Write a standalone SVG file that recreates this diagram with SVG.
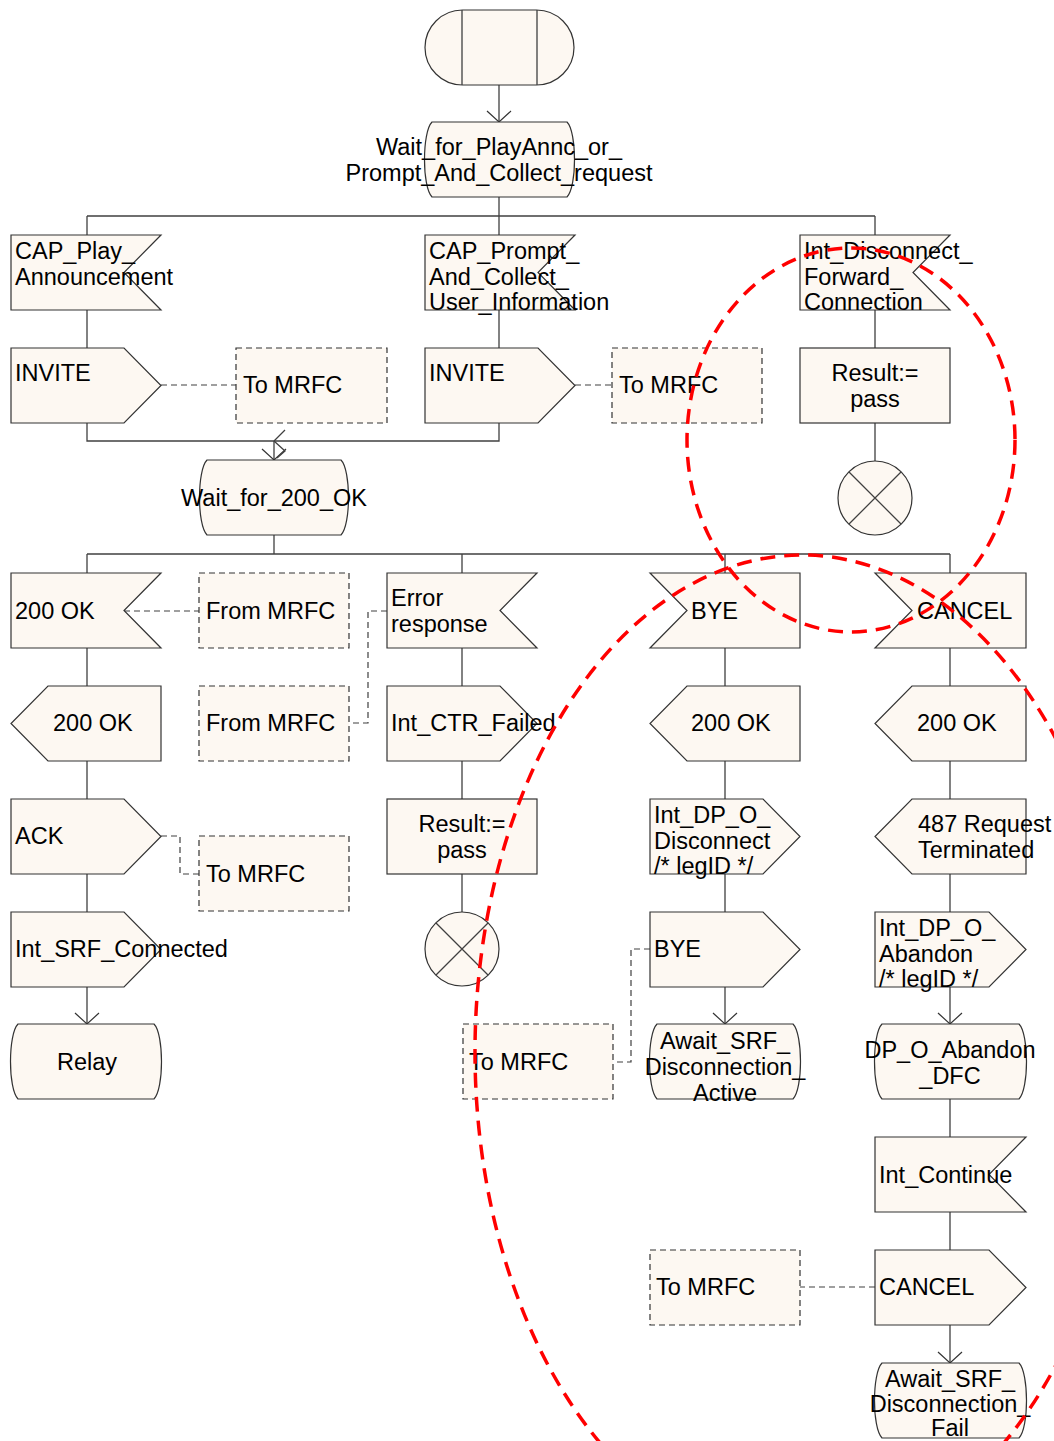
<svg xmlns="http://www.w3.org/2000/svg" width="1054" height="1441" viewBox="0 0 1054 1441">
<style>
.n{fill:#fdf8f2;stroke:#333;stroke-width:1.2}
.c{fill:#fdf8f2;stroke:#333;stroke-width:1.2;stroke-dasharray:6 4}
.l{fill:none;stroke:#404040;stroke-width:1.3}
.d{fill:none;stroke:#404040;stroke-width:1.2;stroke-dasharray:6 4}
.t{font-family:"Liberation Sans",Arial,sans-serif;font-size:23.5px;fill:#000}
.m{text-anchor:middle}
.r{fill:none;stroke:#f00;stroke-width:3.5;stroke-dasharray:15 9}
</style>
<defs>
<marker id="a" markerUnits="userSpaceOnUse" markerWidth="14" markerHeight="28" viewBox="-12 -13 14 26" refX="0" refY="0" orient="auto" overflow="visible">
<path d="M-11,-12 L0,0 L-11,12" fill="none" stroke="#333" stroke-width="1.2"/>
</marker>
</defs>
<rect width="1054" height="1441" fill="#fff"/>

<g id="connectors">
<path class="l" d="M499,85 V122" marker-end="url(#a)"/>
<path class="l" d="M499,197 V216 M87,216 H875 M87,216 V235 M499,216 V235 M875,216 V235"/>
<path class="l" d="M87,310 V348 M499,310 V348 M875,310 V348 M875,423 V461"/>
<path class="l" d="M87,423 V441 H499 V423"/>
<path class="l" d="M274,441 V460" stroke-width="2" marker-end="url(#a)"/>
<path class="l" d="M274,441 L285,430 M274,441 L285,451 L277,458"/>
<path class="l" d="M274,535 V554" stroke-width="2"/>
<path class="l" d="M87,554 H950 M87,554 V573 M462,554 V573 M725,554 V573 M950,554 V573"/>
<path class="l" d="M87,648 V686 M87,761 V799 M87,874 V912"/>
<path class="l" d="M87,987 V1024" marker-end="url(#a)"/>
<path class="l" d="M462,648 V686 M462,761 V799 M462,874 V912"/>
<path class="l" d="M725,648 V686 M725,761 V799 M725,874 V912"/>
<path class="l" d="M725,987 V1024" marker-end="url(#a)"/>
<path class="l" d="M950,648 V686 M950,761 V799 M950,874 V912"/>
<path class="l" d="M950,987 V1024" marker-end="url(#a)"/>
<path class="l" d="M950,1099 V1137 M950,1212 V1250"/>
<path class="l" d="M950,1325 V1363" marker-end="url(#a)"/>
<path class="d" d="M161,385 H236"/>
<path class="d" d="M575,385 H612"/>
<path class="d" d="M124,611 H199"/>
<path class="d" d="M387,611 H368 V723 H349"/>
<path class="d" d="M161,836 H180 V874 H199"/>
<path class="d" d="M650,949 H631 V1062 H613"/>
<path class="d" d="M875,1287 H800"/>
</g>

<g id="start">
<rect class="n" x="425" y="10" width="149" height="75" rx="37.5" ry="37.5"/>
<path class="l" d="M462,10 V85 M537,10 V85" stroke="#333"/>
</g>

<g id="state_wait_play">
<path class="n" d="M432,122 H567 C577,132 577,187 567,197 H432 C422,187 422,132 432,122 Z"/>
<text class="t m" x="499" y="155">Wait_for_PlayAnnc_or_</text>
<text class="t m" x="499" y="181">Prompt_And_Collect_request</text>
</g>

<g id="in_cap_play">
<path class="n" d="M11,235 H161 L124,272.5 L161,310 H11 Z"/>
<text class="t" x="15" y="259">CAP_Play_</text>
<text class="t" x="15" y="285">Announcement</text>
</g>

<g id="in_cap_prompt">
<path class="n" d="M425,235 H575 L538,272.5 L575,310 H425 Z"/>
<text class="t" x="429" y="259">CAP_Prompt_</text>
<text class="t" x="429" y="285">And_Collect_</text>
<text class="t" x="429" y="310">User_Information</text>
</g>

<g id="in_int_disconnect">
<path class="n" d="M800,235 H950 L913,272.5 L950,310 H800 Z"/>
<text class="t" x="804" y="259">Int_Disconnect_</text>
<text class="t" x="804" y="285">Forward_</text>
<text class="t" x="804" y="310">Connection</text>
</g>

<g id="out_invite_1">
<path class="n" d="M11,348 H124 L161,385.5 L124,423 H11 Z"/>
<text class="t" x="15" y="381">INVITE</text>
</g>
<g id="cmt_to_mrfc_1">
<rect class="c" x="236" y="348" width="151" height="75"/>
<text class="t" x="243" y="393">To MRFC</text>
</g>

<g id="out_invite_2">
<path class="n" d="M425,348 H538 L575,385.5 L538,423 H425 Z"/>
<text class="t" x="429" y="381">INVITE</text>
</g>
<g id="cmt_to_mrfc_2">
<rect class="c" x="612" y="348" width="150" height="75"/>
<text class="t" x="619" y="393">To MRFC</text>
</g>

<g id="task_result_1">
<rect class="n" x="800" y="348" width="150" height="75"/>
<text class="t m" x="875" y="381">Result:=</text>
<text class="t m" x="875" y="407">pass</text>
</g>

<g id="stop_1">
<circle class="n" cx="875" cy="498" r="37"/>
<path class="l" d="M849,472 L901,524 M901,472 L849,524" stroke="#333" stroke-width="1"/>
</g>

<g id="state_wait_200">
<path class="n" d="M207,460 H341 C351,470 351,525 341,535 H207 C197,525 197,470 207,460 Z"/>
<text class="t m" x="274" y="506">Wait_for_200_OK</text>
</g>

<g id="in_200ok">
<path class="n" d="M11,573 H161 L124,610.5 L161,648 H11 Z"/>
<text class="t" x="15" y="619">200 OK</text>
</g>
<g id="cmt_from_mrfc_1">
<rect class="c" x="199" y="573" width="150" height="75"/>
<text class="t" x="206" y="619">From MRFC</text>
</g>

<g id="in_error">
<path class="n" d="M387,573 H537 L500,610.5 L537,648 H387 Z"/>
<text class="t" x="391" y="606">Error</text>
<text class="t" x="391" y="632">response</text>
</g>

<g id="in_bye">
<path class="n" d="M650,573 H800 V648 H650 L687,610.5 Z"/>
<text class="t" x="691" y="619">BYE</text>
</g>

<g id="in_cancel">
<path class="n" d="M875,573 H1026 V648 H875 L912,610.5 Z"/>
<text class="t" x="917" y="619">CANCEL</text>
</g>

<g id="out_200ok_1">
<path class="n" d="M48,686 H161 V761 H48 L11,723.5 Z"/>
<text class="t" x="53" y="731">200 OK</text>
</g>
<g id="cmt_from_mrfc_2">
<rect class="c" x="199" y="686" width="150" height="75"/>
<text class="t" x="206" y="731">From MRFC</text>
</g>

<g id="out_int_ctr_failed">
<path class="n" d="M387,686 H500 L537,723.5 L500,761 H387 Z"/>
<text class="t" x="391" y="731">Int_CTR_Failed</text>
</g>

<g id="out_200ok_2">
<path class="n" d="M687,686 H800 V761 H687 L650,723.5 Z"/>
<text class="t" x="691" y="731">200 OK</text>
</g>

<g id="out_200ok_3">
<path class="n" d="M912,686 H1026 V761 H912 L875,723.5 Z"/>
<text class="t" x="917" y="731">200 OK</text>
</g>

<g id="out_ack">
<path class="n" d="M11,799 H124 L161,836.5 L124,874 H11 Z"/>
<text class="t" x="15" y="844">ACK</text>
</g>
<g id="cmt_to_mrfc_3">
<rect class="c" x="199" y="836" width="150" height="75"/>
<text class="t" x="206" y="882">To MRFC</text>
</g>

<g id="task_result_2">
<rect class="n" x="387" y="799" width="150" height="75"/>
<text class="t m" x="462" y="832">Result:=</text>
<text class="t m" x="462" y="858">pass</text>
</g>

<g id="out_int_dp_o_disconnect">
<path class="n" d="M650,799 H763 L800,836.5 L763,874 H650 Z"/>
<text class="t" x="654" y="823">Int_DP_O_</text>
<text class="t" x="654" y="849">Disconnect</text>
<text class="t" x="654" y="874">/* legID */</text>
</g>

<g id="out_487">
<path class="n" d="M912,799 H1026 V874 H912 L875,836.5 Z"/>
<text class="t" x="918" y="832">487 Request</text>
<text class="t" x="918" y="858">Terminated</text>
</g>

<g id="out_int_srf_connected">
<path class="n" d="M11,912 H124 L161,949.5 L124,987 H11 Z"/>
<text class="t" x="15" y="957">Int_SRF_Connected</text>
</g>

<g id="stop_2">
<circle class="n" cx="462" cy="949" r="37"/>
<path class="l" d="M436,923 L488,975 M488,923 L436,975" stroke="#333" stroke-width="1"/>
</g>

<g id="out_bye">
<path class="n" d="M650,912 H763 L800,949.5 L763,987 H650 Z"/>
<text class="t" x="654" y="957">BYE</text>
</g>
<g id="cmt_to_mrfc_4">
<rect class="c" x="463" y="1024" width="150" height="75"/>
<text class="t" x="469" y="1070">To MRFC</text>
</g>

<g id="out_int_dp_o_abandon">
<path class="n" d="M875,912 H989 L1026,949.5 L989,987 H875 Z"/>
<text class="t" x="879" y="936">Int_DP_O_</text>
<text class="t" x="879" y="962">Abandon</text>
<text class="t" x="879" y="987">/* legID */</text>
</g>

<g id="state_relay">
<path class="n" d="M18,1024 H154 C164,1034 164,1089 154,1099 H18 C8,1089 8,1034 18,1024 Z"/>
<text class="t m" x="87" y="1070">Relay</text>
</g>

<g id="state_await_active">
<path class="n" d="M657,1024 H793 C803,1034 803,1089 793,1099 H657 C647,1089 647,1034 657,1024 Z"/>
<text class="t m" x="725" y="1049">Await_SRF_</text>
<text class="t m" x="725" y="1075">Disconnection_</text>
<text class="t m" x="725" y="1101">Active</text>
</g>

<g id="state_dp_o_abandon">
<path class="n" d="M882,1024 H1019 C1029,1034 1029,1089 1019,1099 H882 C872,1089 872,1034 882,1024 Z"/>
<text class="t m" x="950" y="1058">DP_O_Abandon</text>
<text class="t m" x="950" y="1084">_DFC</text>
</g>

<g id="in_int_continue">
<path class="n" d="M875,1137 H1026 L989,1174.5 L1026,1212 H875 Z"/>
<text class="t" x="879" y="1183">Int_Continue</text>
</g>

<g id="out_cancel">
<path class="n" d="M875,1250 H989 L1026,1287.5 L989,1325 H875 Z"/>
<text class="t" x="879" y="1295">CANCEL</text>
</g>
<g id="cmt_to_mrfc_5">
<rect class="c" x="650" y="1250" width="150" height="75"/>
<text class="t" x="656" y="1295">To MRFC</text>
</g>

<g id="state_await_fail">
<path class="n" d="M882,1363 H1019 C1029,1373 1029,1428 1019,1438 H882 C872,1428 872,1373 882,1363 Z"/>
<text class="t m" x="950" y="1387">Await_SRF_</text>
<text class="t m" x="950" y="1412">Disconnection_</text>
<text class="t m" x="950" y="1436">Fail</text>
</g>

<g id="annotations">
<ellipse class="r" cx="851" cy="440" rx="164" ry="192"/>
<ellipse class="r" cx="802" cy="1052" rx="327" ry="497"/>
</g>
</svg>
